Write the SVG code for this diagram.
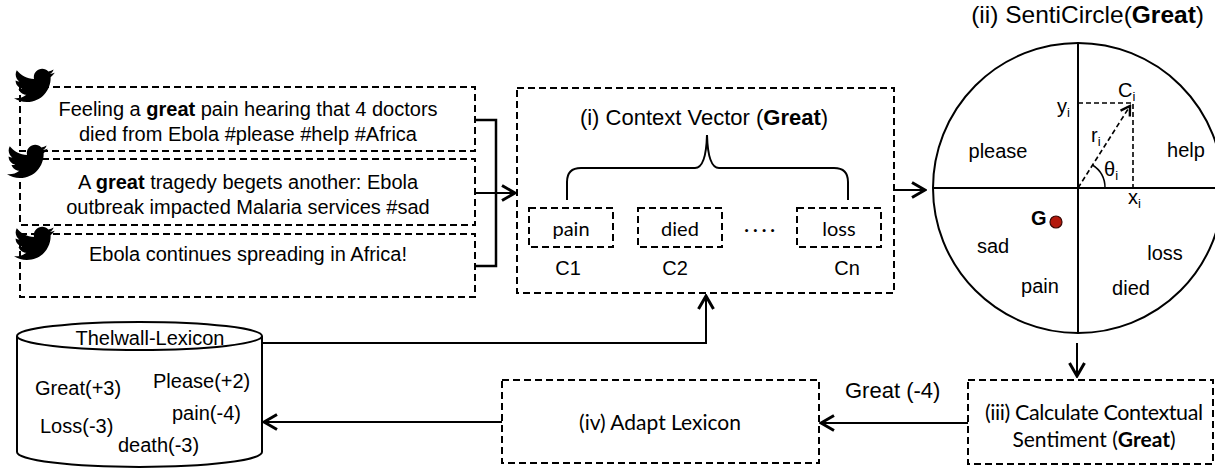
<svg xmlns="http://www.w3.org/2000/svg" width="1215" height="472" viewBox="0 0 1215 472">
<defs>
<style>
.dbox{fill:none;stroke:#000;stroke-width:2;stroke-dasharray:7 4}
.line{fill:none;stroke:#000;stroke-width:2}
.thick{fill:none;stroke:#000;stroke-width:2.5}
.ar{font-family:"Liberation Sans",Arial,sans-serif;fill:#000}
.cal{font-family:Lato,"Open Sans",sans-serif;fill:#000}
.tw{font-size:20px;text-anchor:middle}
.b{font-weight:bold}
.dash{fill:none;stroke:#000;stroke-width:1.6;stroke-dasharray:5 3}
</style>
<marker id="arr" viewBox="-16 -10 18 20" refX="0" refY="0" markerWidth="18" markerHeight="20" markerUnits="userSpaceOnUse" orient="auto">
<path d="M-13,-7.5 L0,0 L-13,7.5" fill="none" stroke="#000" stroke-width="3"/>
</marker>
<marker id="arrs" viewBox="-12 -8 14 16" refX="0" refY="0" markerWidth="14" markerHeight="16" markerUnits="userSpaceOnUse" orient="auto">
<path d="M-9,-5.5 L0,0 L-9,5.5" fill="none" stroke="#000" stroke-width="2.4"/>
</marker>
<path id="bird" d="M23.954 4.569c-.885.389-1.83.654-2.825.775 1.014-.611 1.794-1.574 2.163-2.723-.951.555-2.005.959-3.127 1.184-.896-.959-2.173-1.559-3.591-1.559-2.717 0-4.920 2.203-4.920 4.917 0 .39.045.765.127 1.124C7.691 8.094 4.066 6.13 1.64 3.161c-.427.722-.666 1.561-.666 2.475 0 1.71.87 3.213 2.188 4.096-.807-.026-1.566-.248-2.228-.616v.061c0 2.385 1.693 4.374 3.946 4.827-.413.111-.849.171-1.296.171-.314 0-.615-.03-.916-.086.631 1.953 2.445 3.377 4.604 3.417-1.68 1.319-3.809 2.105-6.102 2.105-.39 0-.779-.023-1.17-.067 2.189 1.394 4.768 2.209 7.557 2.209 9.054 0 13.999-7.496 13.999-13.986 0-.209 0-.42-.015-.63.961-.689 1.8-1.560 2.46-2.548z" fill="#000"/>
</defs>
<rect width="1215" height="472" fill="#fff"/>

<g id="tweet1">
<rect class="dbox" x="20" y="87" width="455" height="64"/>
<text class="ar tw" x="248" y="116">Feeling a <tspan class="b">great</tspan> pain hearing that 4 doctors</text>
<text class="ar tw" x="248" y="141">died from Ebola #please #help #Africa</text>
<use href="#bird" transform="translate(14,65) scale(1.7)"/>
</g>
<g id="tweet2">
<rect class="dbox" x="20" y="159" width="455" height="66"/>
<text class="ar tw" x="248" y="189">A <tspan class="b">great</tspan> tragedy begets another: Ebola</text>
<text class="ar tw" x="248" y="214">outbreak impacted Malaria services #sad</text>
<use href="#bird" transform="translate(7,141) scale(1.7)"/>
</g>
<g id="tweet3">
<rect class="dbox" x="20" y="234" width="455" height="63"/>
<text class="ar tw" x="248" y="261">Ebola continues spreading in Africa!</text>
<use href="#bird" transform="translate(14,223) scale(1.7)"/>
</g>

<g id="context-vector">
<rect class="dbox" x="517" y="88" width="377" height="205"/>
<text class="ar" x="704" y="125" font-size="22" text-anchor="middle">(i) Context Vector (<tspan class="b">Great</tspan>)</text>
<path class="line" d="M567,200 V182 Q567,168 581,168 H695 Q706,168 707,135 Q708,168 719,168 H834 Q848,168 848,182 V200"/>
<g id="ctx-pain"><rect class="dbox" x="529" y="208" width="84" height="39"/><text class="cal" x="571" y="236" font-size="20" text-anchor="middle">pain</text></g>
<g id="ctx-died"><rect class="dbox" x="638" y="208" width="84" height="39"/><text class="cal" x="680" y="236" font-size="20" text-anchor="middle">died</text></g>
<g id="ctx-loss"><rect class="dbox" x="797" y="208" width="84" height="39"/><text class="cal" x="839" y="236" font-size="20" text-anchor="middle">loss</text></g>
<text class="cal" x="744" y="236" font-size="20" letter-spacing="3.5">····</text>
<text class="ar" x="568" y="275" font-size="20" text-anchor="middle">C1</text>
<text class="ar" x="675" y="275" font-size="20" text-anchor="middle">C2</text>
<text class="ar" x="847" y="275" font-size="20" text-anchor="middle">Cn</text>
</g>

<g id="senticircle">
<text class="ar" x="1204" y="23" font-size="24.5" text-anchor="end">(ii) SentiCircle(<tspan class="b">Great</tspan>)</text>
<circle cx="1078" cy="188" r="145" fill="none" stroke="#000" stroke-width="2"/>
<path class="line" d="M933,188 H1215 M1078,43 V333"/>
<path class="dash" d="M1078,103 H1133 V188"/>
<path class="dash" d="M1078,188 L1130,106" marker-end="url(#arrs)"/>
<path d="M1105,188 A27,27 0 0 0 1092.5,165" fill="none" stroke="#000" stroke-width="1.5"/>
<text class="ar" x="1118" y="97" font-size="20">C<tspan font-size="13" dy="4">i</tspan></text>
<text class="ar" x="1057" y="113" font-size="20">y<tspan font-size="13" dy="4">i</tspan></text>
<text class="ar" x="1091" y="142" font-size="20">r<tspan font-size="13" dy="4">i</tspan></text>
<text class="ar" x="1104" y="176" font-size="20">θ<tspan font-size="13" dy="4">i</tspan></text>
<text class="ar" x="1128" y="204" font-size="20">x<tspan font-size="13" dy="4">i</tspan></text>
<text class="ar" x="998" y="158" font-size="20" text-anchor="middle">please</text>
<text class="ar" x="1186" y="157" font-size="20" text-anchor="middle">help</text>
<text class="ar b" x="1031" y="225" font-size="20">G</text>
<circle cx="1056" cy="222" r="6" fill="#b3180c" stroke="#3a0804" stroke-width="1.2"/>
<text class="ar" x="993" y="253" font-size="20" text-anchor="middle">sad</text>
<text class="ar" x="1165" y="260" font-size="20" text-anchor="middle">loss</text>
<text class="ar" x="1040" y="293" font-size="20" text-anchor="middle">pain</text>
<text class="ar" x="1131" y="295" font-size="20" text-anchor="middle">died</text>
</g>

<g id="calc-sentiment">
<rect class="dbox" x="968" y="380" width="245" height="84"/>
<text class="cal" x="985" y="420" font-size="21.5" textLength="218" lengthAdjust="spacing">(iii) Calculate Contextual</text>
<text class="cal" x="1094" y="447" font-size="21" text-anchor="middle">Sentiment (<tspan class="b">Great</tspan>)</text>
</g>

<g id="adapt-lexicon">
<rect class="dbox" x="502" y="380" width="317" height="83"/>
<text class="cal" x="660" y="430" font-size="21" text-anchor="middle">(iv) Adapt Lexicon</text>
</g>

<g id="lexicon">
<path d="M17,336 A122.5,14 0 0 1 262,336 V452 A122.5,15 0 0 1 17,452 Z" fill="#fff" stroke="#000" stroke-width="2"/>
<path d="M17,336 A122.5,14 0 0 0 262,336" fill="none" stroke="#000" stroke-width="2"/>
<text class="ar" x="150" y="345" font-size="20" text-anchor="middle">Thelwall-Lexicon</text>
<text class="ar" x="35" y="395" font-size="20">Great(+3)</text>
<text class="ar" x="153" y="388" font-size="20">Please(+2)</text>
<text class="ar" x="172" y="420" font-size="20">pain(-4)</text>
<text class="ar" x="40" y="433" font-size="20">Loss(-3)</text>
<text class="ar" x="118" y="452" font-size="20">death(-3)</text>
</g>

<g id="connectors">
<path class="thick" d="M475,120 H496 V266 H475"/>
<path class="line" d="M475,193 H515" marker-end="url(#arr)"/>
<path class="line" d="M894,190 H925" marker-end="url(#arr)"/>
<path class="line" d="M1077,343 V376" marker-end="url(#arr)"/>
<path class="line" d="M968,423 H821" marker-end="url(#arr)"/>
<text class="ar" x="845" y="398" font-size="22">Great (-4)</text>
<path class="line" d="M502,422 H264" marker-end="url(#arr)"/>
<path class="line" d="M262,343 H706 V296" marker-end="url(#arr)"/>
</g>
</svg>
